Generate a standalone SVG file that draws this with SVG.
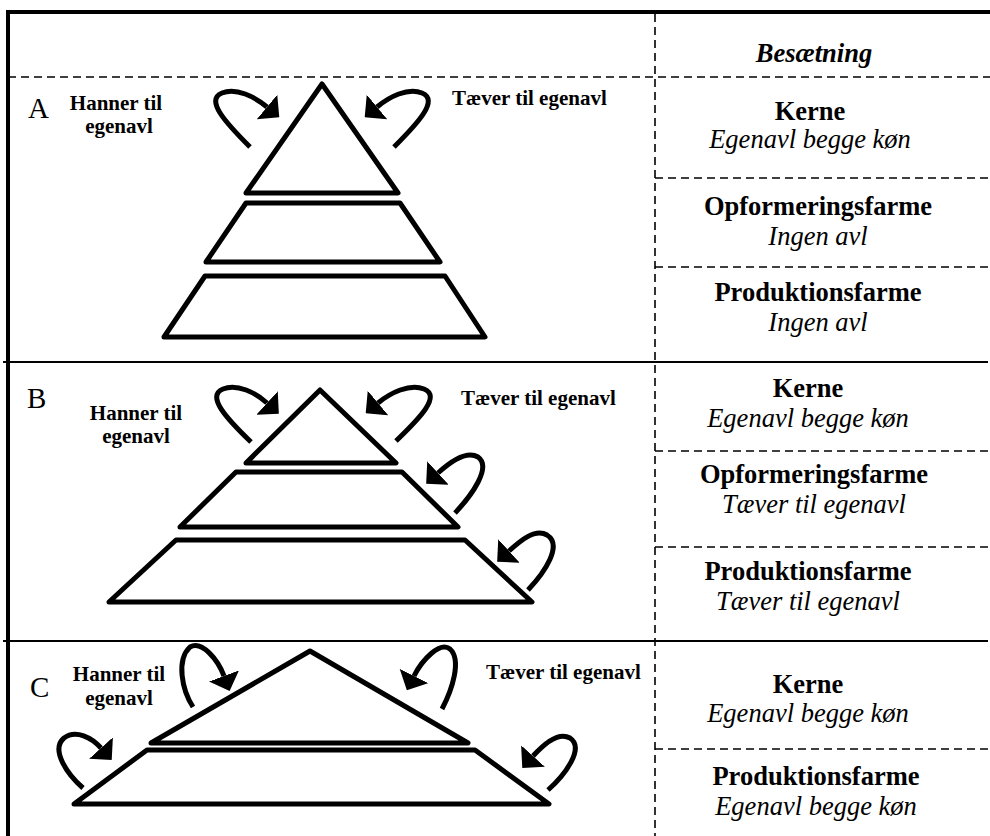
<svg xmlns="http://www.w3.org/2000/svg" width="990" height="836" viewBox="0 0 990 836">
<defs>
<style>
.frame{stroke:#000;fill:none}
.thick{stroke-width:4}
.solid{stroke-width:2}
.dash{stroke-width:1.6;stroke-dasharray:8 5}
.lvl{fill:none;stroke:#000;stroke-width:5;stroke-linejoin:round;stroke-linecap:round}
.arr{fill:none;stroke:#000;stroke-width:5;marker-end:url(#head)}
.sec{font-family:"Liberation Serif","Times New Roman",serif;font-size:29px;fill:#000}
.lab{font-family:"Liberation Serif","Times New Roman",serif;font-size:21px;font-weight:bold;fill:#000}
.hd{font-family:"Liberation Serif","Times New Roman",serif;font-size:26.5px;font-weight:bold;fill:#000;text-anchor:middle}
.it{font-family:"Liberation Serif","Times New Roman",serif;font-size:26.5px;font-style:italic;fill:#000;text-anchor:middle}
.mid{text-anchor:middle}
</style>
<marker id="head" viewBox="0 0 16 32" refX="0" refY="16" markerWidth="16" markerHeight="32" markerUnits="userSpaceOnUse" orient="auto">
<path d="M0,0 L16,16 L0,32 Z" fill="#000"/>
</marker>
</defs>
<rect width="990" height="836" fill="#fff"/>
<g id="grid">
<line class="frame thick" x1="6" y1="12" x2="990" y2="12"/>
<line class="frame thick" x1="8" y1="10" x2="8" y2="836"/>
<line class="frame dash" x1="655" y1="14" x2="655" y2="836"/>
<line class="frame dash" x1="8" y1="77" x2="990" y2="77"/>
<line class="frame dash" x1="655" y1="178" x2="988" y2="178"/>
<line class="frame dash" x1="655" y1="267" x2="988" y2="267"/>
<line class="frame solid" x1="3" y1="362" x2="988" y2="362"/>
<line class="frame dash" x1="655" y1="451" x2="988" y2="451"/>
<line class="frame dash" x1="655" y1="547" x2="988" y2="547"/>
<line class="frame solid" x1="3" y1="641" x2="988" y2="641"/>
<line class="frame dash" x1="655" y1="749" x2="988" y2="749"/>
</g>
<g id="header"><text class="hd" x="814" y="62" font-style="italic">Besætning</text></g>
<g id="sectionA">
<text class="sec" x="28" y="118">A</text>
<text class="lab mid" x="116" y="110">Hanner til</text>
<text class="lab mid" x="119" y="133">egenavl</text>
<text class="lab" x="452" y="105">Tæver til egenavl</text>
<g id="A-kerne"><polygon class="lvl" points="322,84 398,193 246,193"/></g>
<g id="A-opformering"><polygon class="lvl" points="246,203 400,203 440,262 206,262"/></g>
<g id="A-produktion"><polygon class="lvl" points="205,276 445,276 485,337 164,337"/></g>
<g id="A-text">
<text class="hd" x="810" y="120">Kerne</text>
<text class="it" x="810" y="148">Egenavl begge køn</text>
<text class="hd" x="818" y="215">Opformeringsfarme</text>
<text class="it" x="818" y="245">Ingen avl</text>
<text class="hd" x="818" y="301">Produktionsfarme</text>
<text class="it" x="818" y="331">Ingen avl</text>
</g>
</g>
<g id="sectionB">
<text class="sec" x="27" y="408">B</text>
<text class="lab mid" x="136" y="420">Hanner til</text>
<text class="lab mid" x="136" y="443">egenavl</text>
<text class="lab" x="461" y="405">Tæver til egenavl</text>
<g id="B-kerne"><polygon class="lvl" points="320,390 396,463 246,463"/></g>
<g id="B-opformering"><polygon class="lvl" points="236,472 402,472 458,527 180,527"/></g>
<g id="B-produktion"><polygon class="lvl" points="176,540 465,540 532,602 109,602"/></g>
<g id="B-text">
<text class="hd" x="808" y="397">Kerne</text>
<text class="it" x="808" y="427">Egenavl begge køn</text>
<text class="hd" x="814" y="483">Opformeringsfarme</text>
<text class="it" x="814" y="513">Tæver til egenavl</text>
<text class="hd" x="808" y="580">Produktionsfarme</text>
<text class="it" x="808" y="610">Tæver til egenavl</text>
</g>
</g>
<g id="sectionC">
<text class="sec" x="30" y="697">C</text>
<text class="lab mid" x="119" y="681">Hanner til</text>
<text class="lab mid" x="119" y="705">egenavl</text>
<text class="lab" x="486" y="679">Tæver til egenavl</text>
<g id="C-kerne"><polygon class="lvl" points="310,651 468,743 151,743"/></g>
<g id="C-produktion"><polygon class="lvl" points="147,750 475,750 549,804 74,804"/></g>
<g id="C-text">
<text class="hd" x="808" y="693">Kerne</text>
<text class="it" x="808" y="722">Egenavl begge køn</text>
<text class="hd" x="816" y="785">Produktionsfarme</text>
<text class="it" x="816" y="815">Egenavl begge køn</text>
</g>
</g>
<g id="connectors">
<path class="arr" d="M250,147 C225,122 205,100 222,93 C236,87 255,97 267,107"/>
<path class="arr" d="M394,147 C419,122 439,100 422,93 C408,87 389,97 377,107"/>
<path class="arr" d="M251,442 C226,418 206,396 223,389 C237,383 256,393 267,403"/>
<path class="arr" d="M396,441 C421,417 441,396 424,389 C410,383 390,393 378,403"/>
<path class="arr" d="M455,513 C472,495 492,467 478,457 C466,450 449,463 438,473"/>
<path class="arr" d="M528,590 C545,572 563,545 547,535 C535,528 520,541 509,551"/>
<path class="arr" d="M193,707 C182,690 176,660 190,647 C202,640 218,660 224,676"/>
<path class="arr" d="M442,709 C452,690 462,660 450,649 C440,641 422,660 414,676"/>
<path class="arr" d="M83,788 C68,775 50,750 64,738 C76,729 92,738 101,748"/>
<path class="arr" d="M548,790 C565,775 585,748 570,738 C558,731 542,746 533,756"/>
</g>
</svg>
